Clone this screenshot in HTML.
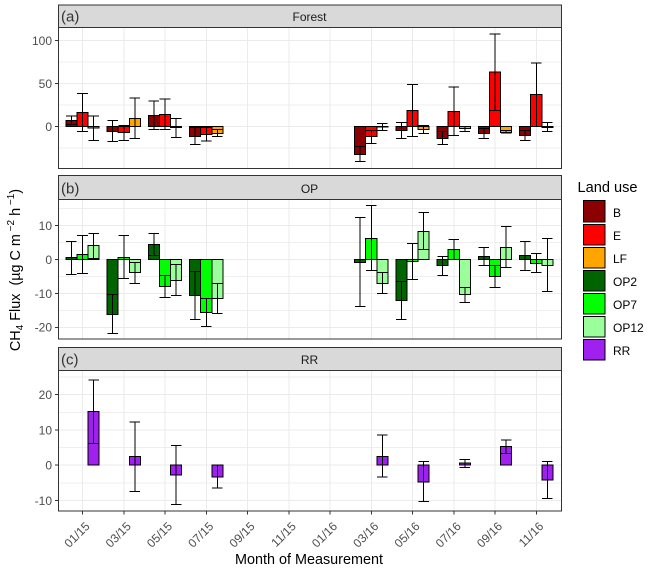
<!DOCTYPE html>
<html lang="en">
<head>
<meta charset="utf-8">
<title>CH4 flux by land use</title>
<style>
html,body{margin:0;padding:0;background:#fff;}
svg{display:block;font-family:"Liberation Sans",sans-serif;}
text{white-space:pre;}
</style>
</head>
<body>
<svg id="chart" xmlns="http://www.w3.org/2000/svg" width="650" height="568" viewBox="0 0 650 568">
  <rect x="0" y="0" width="650" height="568" fill="#ffffff"/>
  <g id="panels"></g>

  <text x="309" y="564" font-size="14.4" text-anchor="middle" fill="#000">Month of Measurement</text>
  <text transform="translate(20,270) rotate(-90)" font-size="14.4" text-anchor="middle" fill="#000">CH<tspan font-size="10" dy="3">4</tspan><tspan dy="-3"> Flux  (µg C m</tspan><tspan font-size="10" dy="-6"> −2</tspan><tspan dy="6"> h</tspan><tspan font-size="10" dy="-6"> −1</tspan><tspan dy="6">)</tspan></text>

  <g>
    <text x="577.5" y="192" font-size="14.6" fill="#000">Land use</text>
    <rect x="583.5" y="200.5" width="21.5" height="21.5" fill="#8b0000" stroke="#000" shape-rendering="crispEdges"/>
    <text x="613" y="217" font-size="12" fill="#000">B</text>
    <rect x="583.5" y="224.5" width="21.5" height="20.5" fill="#ff0000" stroke="#000" shape-rendering="crispEdges"/>
    <text x="613" y="240" font-size="12" fill="#000">E</text>
    <rect x="583.5" y="247.5" width="21.5" height="20.5" fill="#ffa500" stroke="#000" shape-rendering="crispEdges"/>
    <text x="613" y="263" font-size="12" fill="#000">LF</text>
    <rect x="583.5" y="270.5" width="21.5" height="20.5" fill="#006400" stroke="#000" shape-rendering="crispEdges"/>
    <text x="613" y="286" font-size="12" fill="#000">OP2</text>
    <rect x="583.5" y="293.5" width="21.5" height="20.5" fill="#00ff00" stroke="#000" shape-rendering="crispEdges"/>
    <text x="613" y="309" font-size="12" fill="#000">OP7</text>
    <rect x="583.5" y="316.5" width="21.5" height="20.5" fill="#9aff9a" stroke="#000" shape-rendering="crispEdges"/>
    <text x="613" y="332" font-size="12" fill="#000">OP12</text>
    <rect x="583.5" y="339.5" width="21.5" height="20.5" fill="#a020f0" stroke="#000" shape-rendering="crispEdges"/>
    <text x="613" y="355" font-size="12" fill="#000">RR</text>
  </g>
</svg>

<script>
// ---- categories and tick labels ----
const monthTicks = ["01/15","03/15","05/15","07/15","09/15","11/15","01/16","03/16","05/16","07/16","09/16","11/16"];
const sampledMonths = ["01/15","03/15","05/15","07/15","03/16","05/16","07/16","09/16","11/16"];
const forestTicks = [100, 50, 0];
const opTicks = [10, 0, -10, -20];
const rrTicks = [20, 10, 0, -10];

// ---- Forest panel values (per sampled month) ----
const bValues = [7, -5.6, 13, -11.5, -32.5, -4.5, -13.8, -8, -10.3];
const bLows   = [2.5, -17.3, -3.3, -21, -40.7, -13.8, -20.8, -13.8, -16];
const bHighs  = [12, 7, 29.5, -1, -23, 4.9, -5.6, -2.1, -4.5];
const eValues = [16.5, -7, 14.2, -9, -11.5, 18.9, 17.7, 63.2, 37.5];
const eLows   = [-5.6, -16, -3.3, -17, -19.7, -11.5, -10.3, 18.9, 0];
const eHighs  = [38.5, 1.4, 31.7, -1, -4.5, 49, 45.7, 107.6, 73.7];
const lfValues = [-2, 9.5, -1, -8, -0.5, -3.3, -2.1, -6.8, -1];
const lfLows   = [-16, -14, -12.6, -11.5, -4.5, -8, -5.6, -7.5, -5.6];
const lfHighs  = [12, 33, 9.5, -3.3, 3.7, 1.4, 0, -4.5, 4.9];

// ---- OP panel values ----
const op2Values = [0.6, -16.2, 4.4, -10.6, -0.9, -12, -1.8, 0.9, 1.2];
const op2Lows   = [-4.4, -21.8, 1.2, -17.6, -13.8, -17.6, -4.7, -1.8, -3.2];
const op2Highs  = [5.3, -10.3, 7.6, -3.5, 12.4, -6.5, 0.9, 3.5, 5.3];
const op7Values = [1.5, 0.6, -7.9, -15.6, 6.2, -0.6, 2.9, -5, -1.2];
const op7Lows   = [-4.1, -5.6, -11.2, -19.7, -3.2, -5.9, 0, -8.2, -3.8];
const op7Highs  = [7, 7, -4.7, -11.5, 15.9, 4.7, 5.9, -1.8, 1.8];
const op12Values = [4.1, -3.8, -6.2, -11.5, -7, 8.2, -10.3, 3.5, -1.8];
const op12Lows   = [0.3, -7, -10.6, -15.9, -10, 2.9, -12.6, -2.4, -9.4];
const op12Highs  = [7.6, -0.9, -1.5, -7, -3.8, 13.8, -8.2, 9.7, 6.2];

// ---- RR panel values ----
const rrValues = [15.3, 2.5, -2.8, -3.3, 2.5, -4.7, 0.6, 5.3, -4.2];
const rrLows   = [6.1, -7.5, -11.1, -6.4, -3.3, -10.3, -0.6, 3.3, -9.4];
const rrHighs  = [24.2, 12.2, 5.6, 0, 8.6, 1.1, 1.7, 7.2, 1.1];

// ---- layout and axis functions ----
const SVG_NS = "http://www.w3.org/2000/svg";
const plotLeft = 58.5, plotRight = 561.5;
const slotWidth = 11.1;
const firstTickX = 82.5, tickStepX = 41.25;

function xAxis(label) {
  return firstTickX + monthTicks.indexOf(label) * tickStepX;
}
function linearAxis(domainLow, domainHigh, rangeLow, rangeHigh) {
  return function (v) {
    return rangeLow + (v - domainLow) / (domainHigh - domainLow) * (rangeHigh - rangeLow);
  };
}
function make(tag, attrs, parent) {
  const el = document.createElementNS(SVG_NS, tag);
  for (const k in attrs) el.setAttribute(k, attrs[k]);
  parent.appendChild(el);
  return el;
}

const root = document.getElementById("panels");

const panelDefs = [
  { id: "forest", tag: "(a)", title: "Forest", stripTop: 5, top: 27.5, bottom: 168.5,
    domain: [-48.8, 115.1], ticks: forestTicks,
    series: [
      { name: "b", fill: "#8b0000", slot: -1, v: bValues, lo: bLows, hi: bHighs },
      { name: "e", fill: "#ff0000", slot: 0, v: eValues, lo: eLows, hi: eHighs },
      { name: "lf", fill: "#ffa500", slot: 1, v: lfValues, lo: lfLows, hi: lfHighs }
    ] },
  { id: "op", tag: "(b)", title: "OP", stripTop: 175.5, top: 199.5, bottom: 339,
    domain: [-23.4, 17.65], ticks: opTicks,
    series: [
      { name: "op2", fill: "#006400", slot: -1, v: op2Values, lo: op2Lows, hi: op2Highs },
      { name: "op7", fill: "#00ff00", slot: 0, v: op7Values, lo: op7Lows, hi: op7Highs },
      { name: "op12", fill: "#9aff9a", slot: 1, v: op12Values, lo: op12Lows, hi: op12Highs }
    ] },
  { id: "rr", tag: "(c)", title: "RR", stripTop: 347.5, top: 370.5, bottom: 511,
    domain: [-12.97, 26.86], ticks: rrTicks,
    series: [
      { name: "rr", fill: "#a020f0", slot: 1, v: rrValues, lo: rrLows, hi: rrHighs }
    ] }
];

panelDefs.forEach(function (p, panelIndex) {
  const g = make("g", {}, root);
  
  
  const y = linearAxis(p.domain[0], p.domain[1], p.bottom, p.top);
  const width = plotRight - plotLeft;

  // panel background
  const bg = make("rect", { x: plotLeft, y: p.top, width: width, height: p.bottom - p.top, fill: "#fff" }, g);
  
  

  // minor horizontal gridlines
  const step = Math.abs(p.ticks[0] - p.ticks[1]);
  const lowest = Math.min.apply(null, p.ticks);
  for (let k = -2; k < p.ticks.length + 2; k++) {
    const mv = lowest + step * (k + 0.5);
    if (mv > p.domain[0] && mv < p.domain[1]) {
      const minor = make("line", { x1: plotLeft, x2: plotRight, y1: y(mv), y2: y(mv), stroke: "#efefef", "stroke-width": 1, "shape-rendering": "crispEdges" }, g);
      
      
    }
  }
  // major horizontal gridlines and y ticks
  p.ticks.forEach(function (t) {
    const major = make("line", { x1: plotLeft, x2: plotRight, y1: y(t), y2: y(t), stroke: "#ebebeb", "stroke-width": 1, "shape-rendering": "crispEdges" }, g);
    
    
  });
  // vertical gridlines
  monthTicks.forEach(function (m) {
    const vg = make("line", { x1: xAxis(m), x2: xAxis(m), y1: p.top, y2: p.bottom, stroke: "#ebebeb", "stroke-width": 1, "shape-rendering": "crispEdges" }, g);
    
    
  });

  // bars
  p.series.forEach(function (s) {
    s.v.forEach(function (val, i) {
      const cx = xAxis(sampledMonths[i]) + s.slot * slotWidth;
      const y0 = y(0), y1 = y(val);
      const bar = make("rect", {
        x: cx - slotWidth / 2, y: Math.min(y0, y1), width: slotWidth, height: Math.abs(y1 - y0),
        fill: s.fill, stroke: "#000", "stroke-width": 1, "shape-rendering": "crispEdges"
      }, g);
      
      
    });
  });
  // error bars on top of all bars
  p.series.forEach(function (s) {
    s.v.forEach(function (val, i) {
      const cx = xAxis(sampledMonths[i]) + s.slot * slotWidth;
      const capHalf = 5.3;
      const err = make("path", {
        d: "M" + (cx - capHalf) + " " + y(s.hi[i]) + "H" + (cx + capHalf) +
           "M" + cx + " " + y(s.hi[i]) + "V" + y(s.lo[i]) +
           "M" + (cx - capHalf) + " " + y(s.lo[i]) + "H" + (cx + capHalf),
        fill: "none", stroke: "#000", "stroke-width": 1, "shape-rendering": "crispEdges"
      }, g);
      
      
    });
  });

  // border and strip
  const border = make("rect", { x: plotLeft, y: p.top, width: width, height: p.bottom - p.top, fill: "none", stroke: "#333", "stroke-width": 1.2, "shape-rendering": "crispEdges" }, g);
  
  
  const strip = make("rect", { x: plotLeft, y: p.stripTop, width: width, height: p.top - p.stripTop, fill: "#d9d9d9", stroke: "#333", "stroke-width": 1.2, "shape-rendering": "crispEdges" }, g);
  
  

  const stripLabel = make("text", { x: 309.5, y: p.top - 6.5, "font-size": 12, "text-anchor": "middle", fill: "#1a1a1a" }, g);
  stripLabel.textContent = p.title;
  
  

  const tagLabel = make("text", { x: 61, y: p.top - 6, "font-size": 15, fill: "#333" }, g);
  tagLabel.textContent = p.tag;
  
  

  // y axis
  p.ticks.forEach(function (t) {
    const tick = make("line", { x1: plotLeft - 3.5, x2: plotLeft, y1: y(t), y2: y(t), stroke: "#333", "stroke-width": 1, "shape-rendering": "crispEdges" }, g);
    
    
    const label = make("text", { x: plotLeft - 6.5, y: y(t) + 4.3, "font-size": 12, "text-anchor": "end", fill: "#4d4d4d" }, g);
    label.textContent = String(t);
    
    
  });

  // x axis only under the last panel
  if (panelIndex === panelDefs.length - 1) {
    monthTicks.forEach(function (m) {
      const cx = xAxis(m);
      const tick = make("line", { x1: cx, x2: cx, y1: p.bottom, y2: p.bottom + 3.5, stroke: "#333", "stroke-width": 1, "shape-rendering": "crispEdges" }, g);
      
      
      const lx = cx + 8;
      const ly = p.bottom + 16;
      const label = make("text", { x: lx, y: ly, "font-size": 12, "text-anchor": "end", fill: "#4d4d4d", transform: "rotate(-45 " + lx + " " + ly + ")" }, g);
      label.textContent = m;
      
      
    });
  }
});
</script>
</body>
</html>
